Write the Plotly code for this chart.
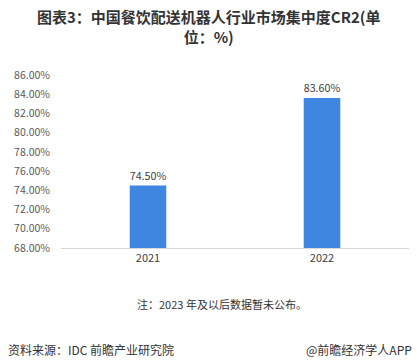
import plotly.graph_objects as go

years = ["2021", "2022"]
cr2 = [74.50, 83.60]
tick_vals = [68, 70, 72, 74, 76, 78, 80, 82, 84, 86]
tick_text = [f"{v:.2f}%" for v in tick_vals]
bar_labels = [f"{v:.2f}%" for v in cr2]

title_text = "图表3：中国餐饮配送机器人行业市场集中度CR2(单<br>位：%)"
note_text = "注：2023 年及以后数据暂未公布。"
source_text = "资料来源：IDC 前瞻产业研究院"
brand_text = "@前瞻经济学人APP"

font_cjk = "Noto Sans CJK SC, Noto Sans, sans-serif"

PL, PR, PT, PB = 61, 8, 75, 112
PH = 360 - PT - PB
PW = 417 - PL - PR

def px_y(y):
    return (360 - PB - y) / PH

def px_x(x):
    return (x - PL) / PW

fig = go.Figure()
fig.add_trace(go.Bar(
    x=years, y=cr2,
    marker=dict(color="#3f86e0", line=dict(width=0)),
    width=0.21,
    text=bar_labels, textposition="outside",
    textfont=dict(size=11, color="#404040", family=font_cjk),
    cliponaxis=False,
))

fig.update_layout(
    width=417, height=360,
    margin=dict(l=PL, r=PR, t=PT, b=PB),
    paper_bgcolor="white", plot_bgcolor="white",
    showlegend=False,
    xaxis=dict(showgrid=False, showline=True, linecolor="#d9d9d9", linewidth=1,
               ticks="", tickfont=dict(size=11, color="#404040", family=font_cjk)),
    yaxis=dict(range=[68, 86], tickvals=tick_vals, ticktext=tick_text,
               showgrid=False, zeroline=False, showline=False, ticks="",
               ticklabelstandoff=10,
               tickfont=dict(size=10.5, color="#595959", family=font_cjk)),
    font=dict(family=font_cjk),
)

title_font = dict(size=15, color="#333333", family=font_cjk, weight="bold")
fig.add_annotation(text=title_text, xref="paper", yref="paper", x=px_x(208.5), y=px_y(26.5),
                   showarrow=False, xanchor="center", yanchor="middle", align="center",
                   font=title_font)
fig.add_annotation(text=note_text, xref="paper", yref="paper", x=px_x(222), y=px_y(304),
                   showarrow=False, xanchor="center", yanchor="middle",
                   font=dict(size=11, color="#333333", family=font_cjk))
fig.add_annotation(text=source_text, xref="paper", yref="paper", x=px_x(6), y=px_y(349),
                   showarrow=False, xanchor="left", yanchor="middle",
                   font=dict(size=12, color="#333333", family=font_cjk))
fig.add_annotation(text=brand_text, xref="paper", yref="paper", x=px_x(414), y=px_y(349),
                   showarrow=False, xanchor="right", yanchor="middle",
                   font=dict(size=12, color="#333333", family=font_cjk))

fig.write_html("out.html", post_script="document.body.style.margin='0';",
               config={"displayModeBar": False})
